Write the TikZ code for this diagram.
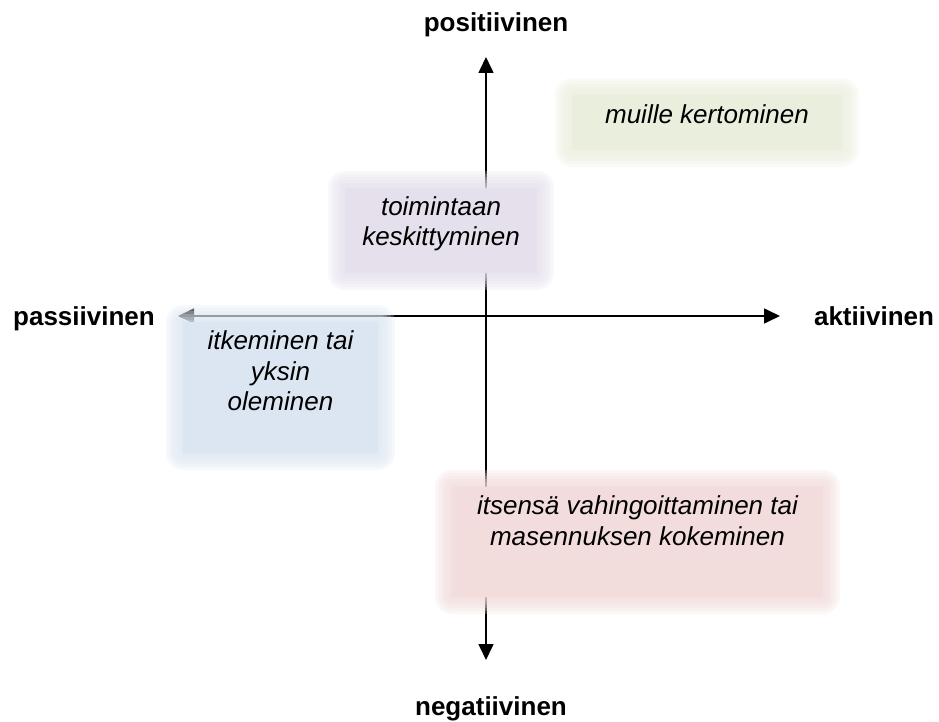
\documentclass[tikz,border=0pt]{standalone}
\usepackage{fontspec}
\setmainfont{Liberation Sans}
\usetikzlibrary{arrows.meta, positioning}

\definecolor{greenfill}{RGB}{234,238,221}
\definecolor{purplefill}{RGB}{229,224,236}
\definecolor{bluefill}{RGB}{220,230,242}
\definecolor{redfill}{RGB}{242,220,220}

\begin{document}
\begin{tikzpicture}[x=1pt, y=-1pt,
    axis/.style = {line width=1.6pt, {Triangle[width=15pt,length=16pt]}-{Triangle[width=15pt,length=16pt]}},
    pole/.style = {font=\fontsize{26}{30.5}\selectfont\bfseries, inner sep=0pt, anchor=base},
    glow/.style n args = {2}{preaction={draw=#1, line width=#2, line join=round, draw opacity=.25}},
    soft/.style = {fill=#1, inner sep=0pt,
        glow={#1}{34pt}, glow={#1}{28pt}, glow={#1}{22pt},
        glow={#1}{16pt}, glow={#1}{10pt}, glow={#1}{4pt}},
    txt/.style = {font=\fontsize{26}{30.5}\selectfont\itshape, align=center, inner sep=0pt}]
    \useasboundingbox (0,0) rectangle (939,722);

    \node[pole] (pos) at (496,32) {positiivinen};
    \node[pole] (neg) at (491,715) {negatiivinen};
    \node[pole] (pas) at (84,325) {passiivinen};
    \node[pole] (akt) at (874,325) {aktiivinen};

    \coordinate (left) at (178,316);
    \coordinate (right) at (780,316);
    \coordinate (up) at (486,57);
    \coordinate (down) at (486,660);
    \draw[axis] (left) -- (right);
    \draw[axis] (down) -- (up);

    \node[soft=greenfill, minimum width=270pt, minimum height=55pt] (green) at (707,122.5) {};
    \node[soft=purplefill, minimum width=192pt, minimum height=85pt] (purple) at (441,230.5) {};
    \node[soft=bluefill, minimum width=195pt, minimum height=131pt] (blue) at (280.5,387.5) {};
    \node[soft=redfill, minimum width=371pt, minimum height=110pt] (red) at (637.5,542) {};

    \node[txt, below=10pt of green.north] (greenText) {muille kertominen};
    \node[txt, below=8.5pt of purple.north] (purpleText) {toimintaan\\keskittyminen};
    \node[txt, below=9pt of blue.north] (blueText) {itkeminen tai\\yksin\\oleminen};
    \node[txt, below=9pt of red.north] (redText) {itsensä vahingoittaminen tai\\masennuksen kokeminen};
\end{tikzpicture}
\end{document}
